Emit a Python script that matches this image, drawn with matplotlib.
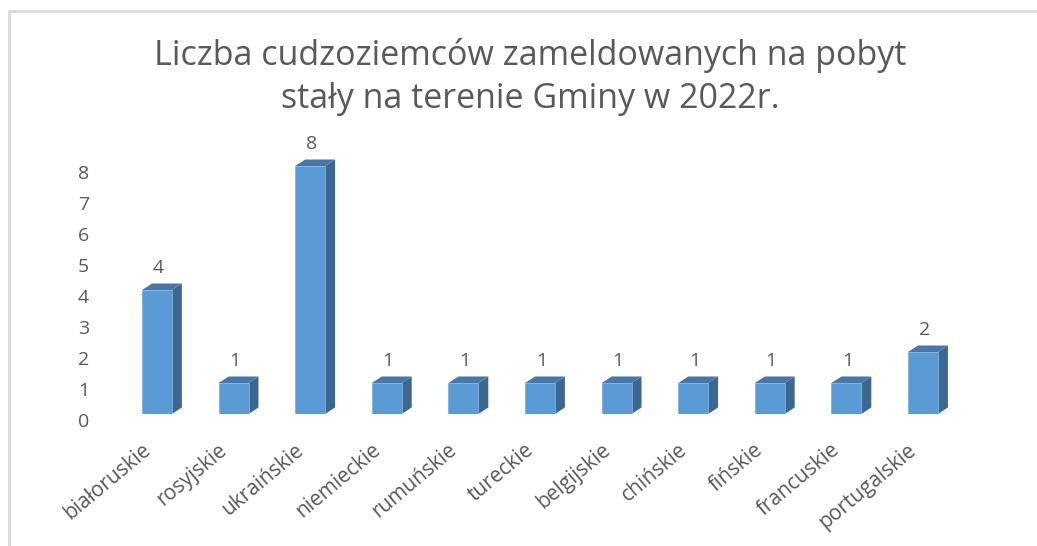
import matplotlib.pyplot as plt
from matplotlib.patches import Polygon, Rectangle
from matplotlib.transforms import ScaledTranslation

kategorie = ["białoruskie", "rosyjskie", "ukraińskie", "niemieckie", "rumuńskie",
             "tureckie", "belgijskie", "chińskie", "fińskie", "francuskie", "portugalskie"]
liczba = [4, 1, 8, 1, 1, 1, 1, 1, 1, 1, 2]
yticks = [0, 1, 2, 3, 4, 5, 6, 7, 8]

tytul = "Liczba cudzoziemców zameldowanych na pobyt\nstały na terenie Gminy w 2022r."

szary = "#595959"
front = "#5b9bd5"
bok = "#3b6791"
gora = "#4677ab"

plt.rcParams["font.family"] = ["Open Sans", "DejaVu Sans"]

fig = plt.figure(figsize=(10.37, 5.46), dpi=100)
ax = fig.add_axes([100 / 1037, 132 / 546, 880 / 1037, 264 / 546])

# ramka wykresu (jak w Excelu)
fig.patches.append(Rectangle((9 / 1037, -0.05), 1.1, 0.05 + 535 / 546, transform=fig.transFigure,
                             fill=False, edgecolor="#d9d9d9", linewidth=2))

szer = 0.39   # szerokosc slupka
dx = 0.13     # glebokosc 3D w poziomie
dy = 0.21     # glebokosc 3D w pionie

x = list(range(len(kategorie)))
ax.bar(x, liczba, width=szer, color=front, edgecolor="#7fb0e0", linewidth=0.6, zorder=3)
for xi, v in zip(x, liczba):
    p = xi + szer / 2
    l = xi - szer / 2
    ax.add_patch(Polygon([(p, 0), (p + dx, dy), (p + dx, v + dy), (p, v)],
                         closed=True, facecolor=bok, edgecolor="none", zorder=2))
    ax.add_patch(Polygon([(l, v), (p, v), (p + dx, v + dy), (l + dx, v + dy)],
                         closed=True, facecolor=gora, edgecolor="none", zorder=2))
    ax.annotate(str(v), (xi, v), xytext=(1, 16), textcoords="offset points",
                ha="center", va="center", fontsize=14, color=szary)

ax.set_xlim(-0.744, 10.744)
ax.set_ylim(0, 8.516)
for s in ax.spines.values():
    s.set_visible(False)

ax.set_yticks(yticks)
ax.set_yticklabels([str(t) for t in yticks], fontsize=14, color=szary)
ax.tick_params(axis="y", length=0, pad=8)

ax.set_xticks(x)
ax.set_xticklabels(kategorie, fontsize=15, color=szary, rotation=40,
                   ha="right", va="center", rotation_mode="anchor")
ax.tick_params(axis="x", length=0, pad=24)

# przesuniecia etykiet (po tick_params, bo ono resetuje transformacje)
przes_y = ScaledTranslation(0, -6 / 100, fig.dpi_scale_trans)
for t in ax.get_yticklabels():
    t.set_transform(t.get_transform() + przes_y)
przes_x = ScaledTranslation(-9 / 100, 0, fig.dpi_scale_trans)
for t in ax.get_xticklabels():
    t.set_transform(t.get_transform() + przes_x)

fig.text(530 / 1037, 1 - 77 / 546, tytul, ha="center", va="center", fontsize=24.5,
         color=szary, linespacing=1.35)

fig.savefig("out.png", dpi=100)
